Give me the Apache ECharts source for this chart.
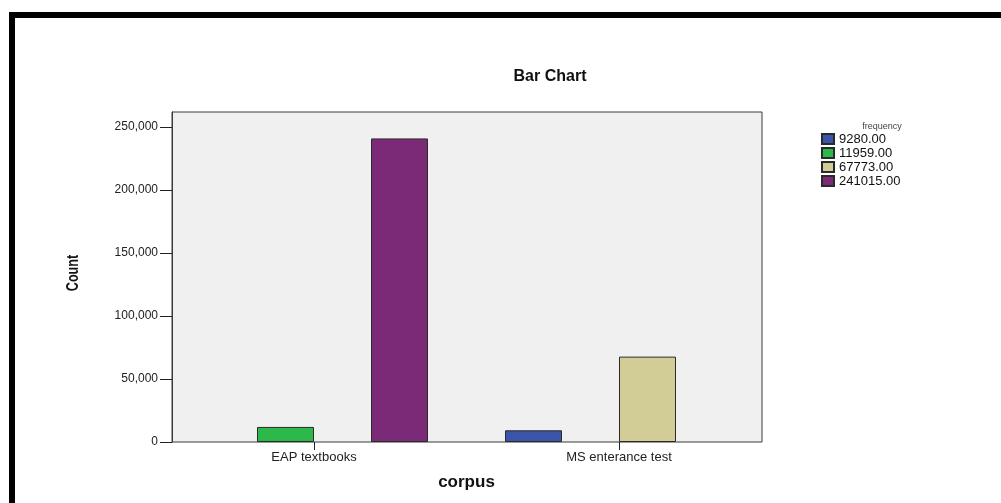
<!DOCTYPE html>
<html><head><meta charset="utf-8">
<script src="https://cdn.jsdelivr.net/npm/echarts@6/dist/echarts.min.js"></script>
<style>html,body{margin:0;padding:0;background:#fff}#c{width:1001px;height:503px}</style>
</head><body><div id="c"></div>
<script>
var categories = ['EAP textbooks', 'MS enterance test'];
var seriesNames = ['9280.00', '11959.00', '67773.00', '241015.00'];
var seriesColors = ['#3d55a8', '#2db84a', '#d2cd96', '#7b2a78'];
var blueValues = [null, 9280];
var greenValues = [11959, null];
var beigeValues = [null, 67773];
var purpleValues = [241015, null];
var yTicks = [0, 50000, 100000, 150000, 200000, 250000];
var allValues = [blueValues, greenValues, beigeValues, purpleValues];

var chart = echarts.init(document.getElementById('c'));
var font = 'Liberation Sans, Arial, sans-serif';
var series = seriesNames.map(function (n, i) {
  return {
    name: n, type: 'bar', xAxisIndex: 1, yAxisIndex: 1,
    data: allValues[i].map(function (v) { return v === null ? '-' : v; }),
    barWidth: 57, barGap: '0%',
    itemStyle: { color: seriesColors[i], borderColor: '#2a2a2a', borderWidth: 1 },
    emphasis: { disabled: true }
  };
});
chart.setOption({
  animation: false,
  graphic: [
    { type: 'rect', shape: { x: 9, y: 12, width: 992, height: 6 }, style: { fill: '#000' } },
    { type: 'rect', shape: { x: 9, y: 12, width: 6, height: 491 }, style: { fill: '#000' } },
    { type: 'text', x: 73, y: 273, rotation: Math.PI / 2, scaleX: 0.74,
      style: { text: 'Count', font: 'bold 17px Liberation Sans, Arial, sans-serif', fill: '#111',
        align: 'center', verticalAlign: 'middle' } }
  ],
  title: [
    { text: 'Bar Chart', left: 545, top: 64, textAlign: 'center',
      textStyle: { fontFamily: font, fontWeight: 'bold', fontSize: 16, color: '#111' } },
    { text: 'frequency', left: 877, top: 117, textAlign: 'center',
      textStyle: { fontFamily: font, fontWeight: 'normal', fontSize: 9, color: '#444' } }
  ],
  legend: {
    orient: 'vertical', left: 821, top: 132, padding: 0, itemWidth: 12, itemHeight: 10, itemGap: 0,
    icon: 'rect', selectedMode: false,
    textStyle: { fontFamily: font, fontSize: 13, color: '#111', lineHeight: 14, padding: [0, 0, 0, 0] },
    data: seriesNames
  },
  grid: [
    { left: 172, right: 239, top: 112, bottom: 61, show: true, backgroundColor: '#f0f0f0',
      borderColor: '#3a3a3a', borderWidth: 1 },
    { left: 161.5, right: 229.5, top: 112, bottom: 61 }
  ],
  xAxis: [
    { type: 'category', gridIndex: 0, data: [''], show: false },
    { type: 'category', gridIndex: 1, data: categories,
      axisLine: { show: false },
      axisTick: { show: true, alignWithLabel: true, length: 8, lineStyle: { color: '#222' } },
      axisLabel: { fontFamily: font, fontSize: 13, color: '#222', margin: 9 },
      name: 'corpus', nameLocation: 'middle', nameGap: 32,
      nameTextStyle: { fontFamily: font, fontWeight: 'bold', fontSize: 17, color: '#111' } }
  ],
  yAxis: [
    { type: 'value', gridIndex: 0, min: 0, max: 262000,
      axisLine: { show: true, lineStyle: { color: '#3a3a3a' } },
      splitLine: { show: false },
      axisTick: { show: true, length: 12, lineStyle: { color: '#222' }, customValues: yTicks },
      axisLabel: { fontFamily: font, fontSize: 12, color: '#222', margin: 14, customValues: yTicks,
        formatter: function (v) { return v.toLocaleString('en-US'); } } },
    { type: 'value', gridIndex: 1, min: 0, max: 262000, show: false, splitLine: { show: false } }
  ],
  series: series
});
</script></body></html>
